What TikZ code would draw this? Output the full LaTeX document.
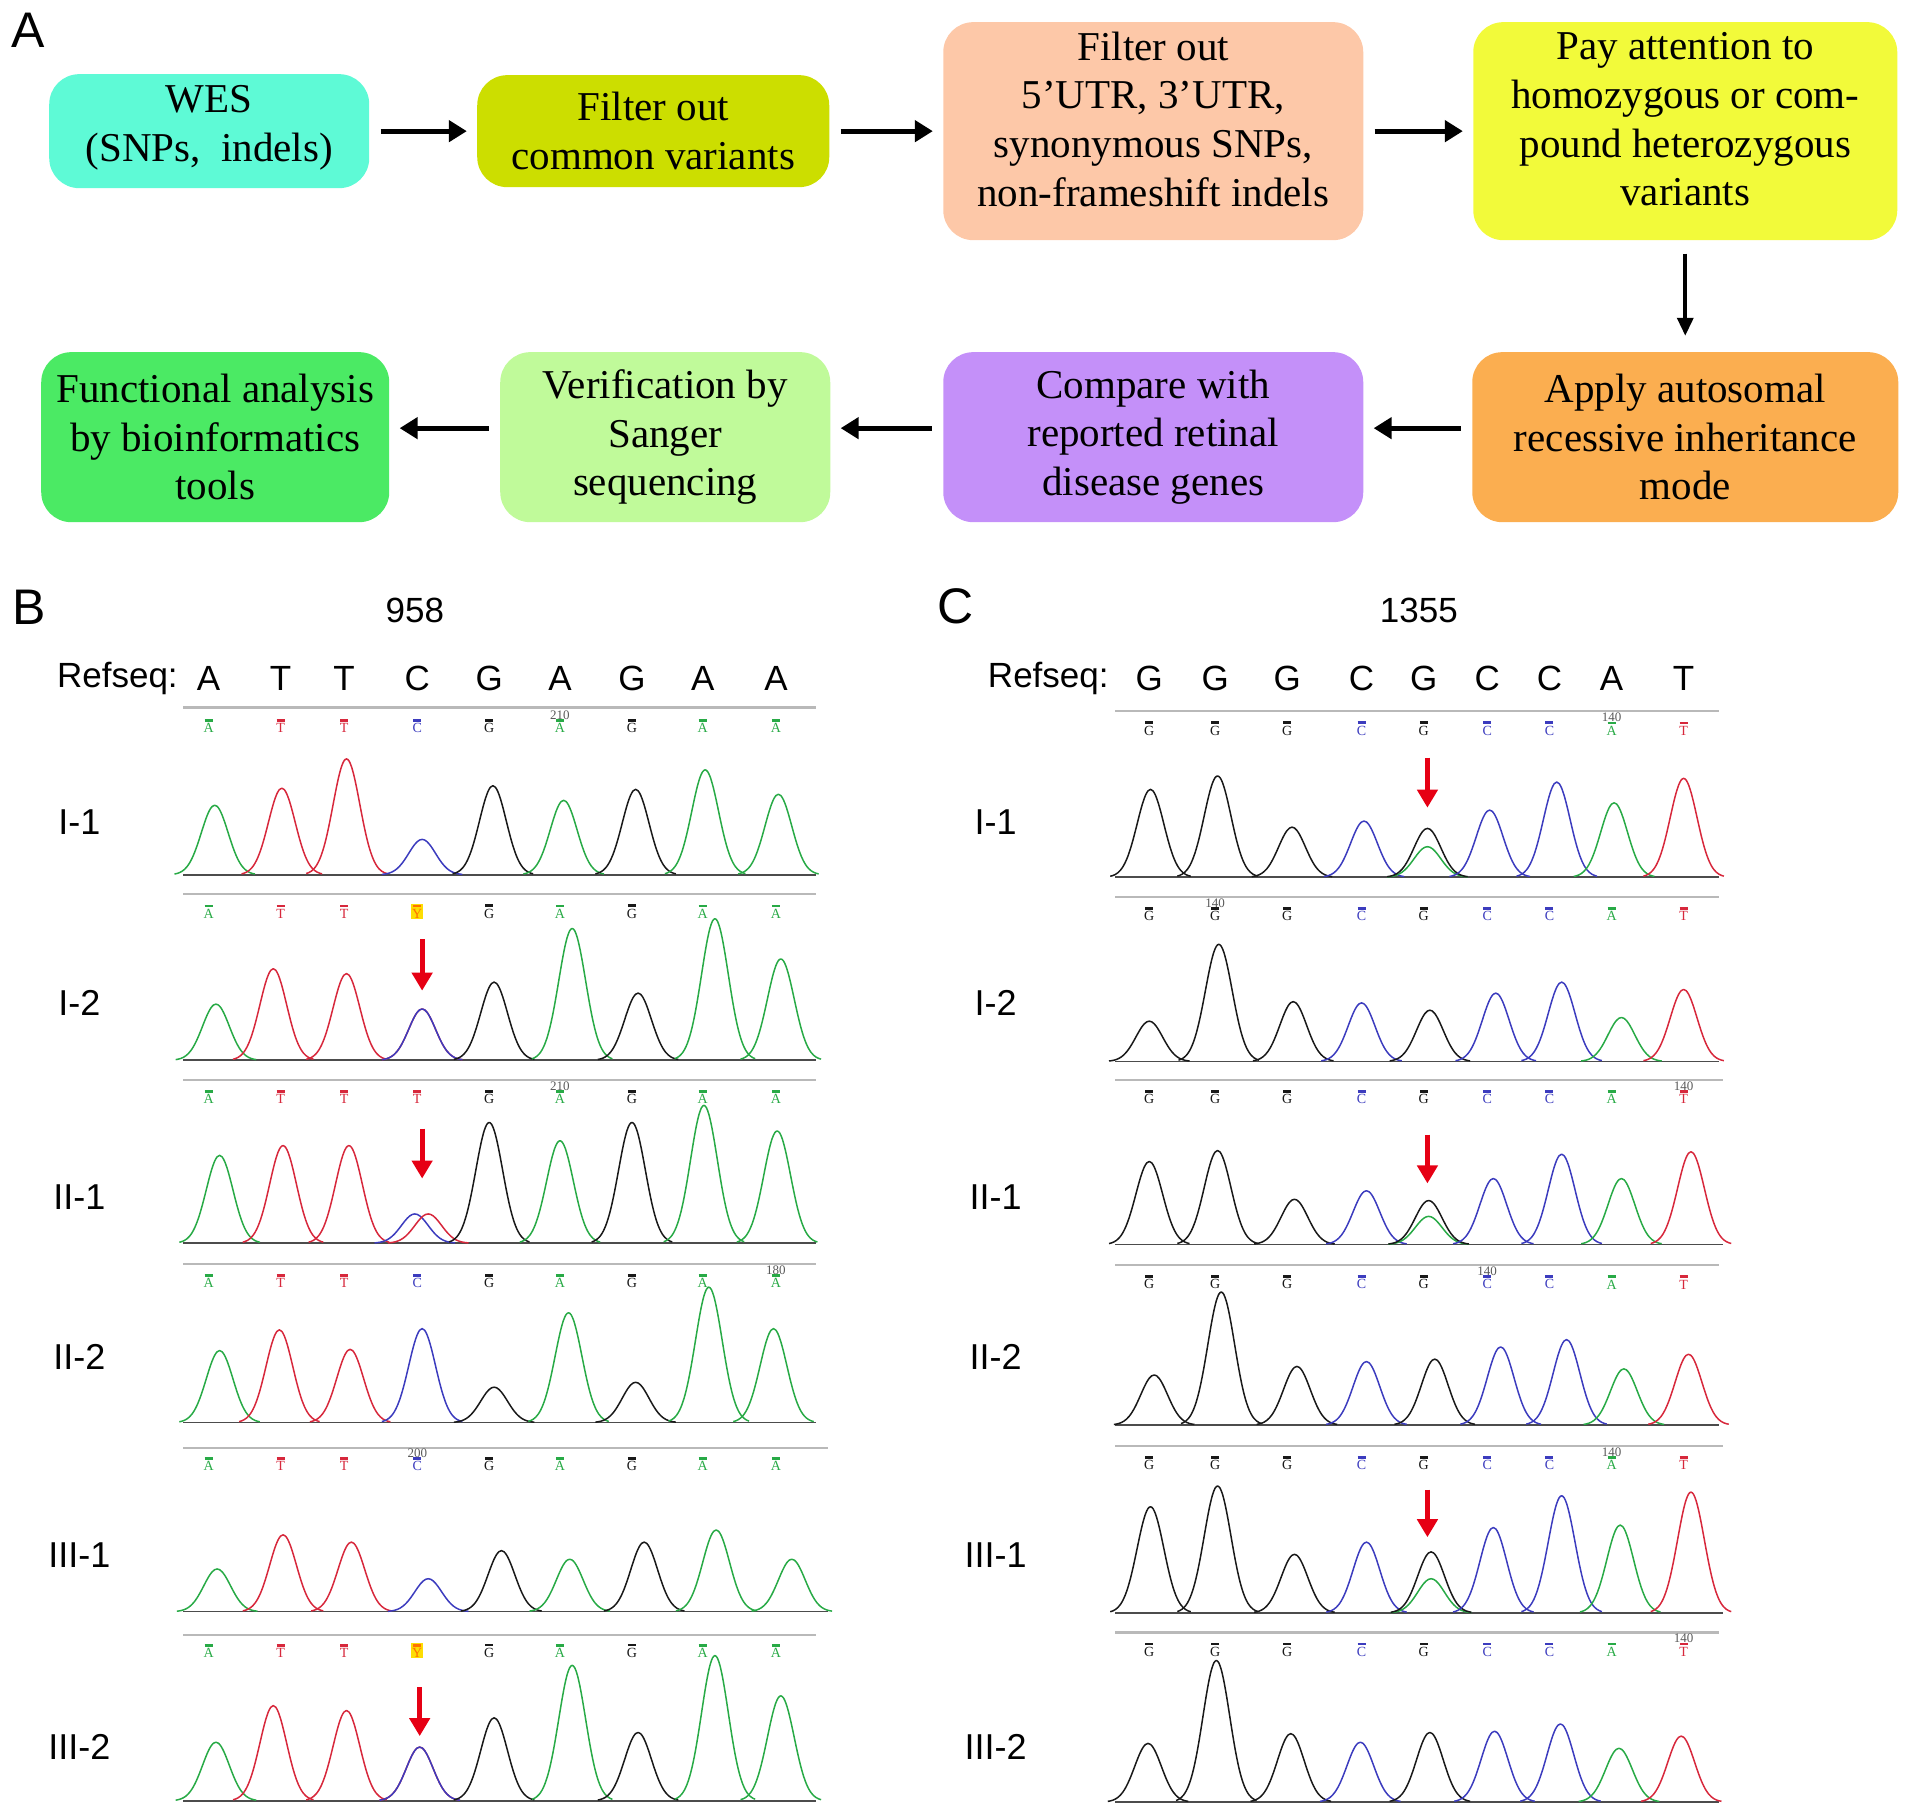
\documentclass[tikz,border=0pt]{standalone}
\usepackage{fontspec}
\setmainfont{Liberation Serif}
\setsansfont{Liberation Sans}
\usepackage{xcolor}
\usetikzlibrary{arrows.meta,positioning}
\definecolor{wescol}{RGB}{94,250,214}
\definecolor{commoncol}{RGB}{204,222,0}
\definecolor{utrcol}{RGB}{253,200,168}
\definecolor{paycol}{RGB}{242,250,58}
\definecolor{applycol}{RGB}{251,174,80}
\definecolor{comparecol}{RGB}{196,144,249}
\definecolor{verifcol}{RGB}{192,250,154}
\definecolor{funccol}{RGB}{75,234,100}
\definecolor{tgreen}{RGB}{40,170,70}
\definecolor{tred}{RGB}{215,40,60}
\definecolor{tblue}{RGB}{60,60,190}
\definecolor{tblack}{RGB}{25,25,25}
\definecolor{mutred}{RGB}{230,0,20}
\tikzstyle{flowbox} = [rectangle, rounded corners=15pt, align=center, inner sep=0pt,
    font=\fontsize{20.5}{24.4}\selectfont]
\tikzstyle{arrow} = [draw, -{Triangle[length=9pt,width=10.5pt]}, line width=2.6pt,
    shorten <=5.5pt, shorten >=5pt]
\tikzstyle{downarrow} = [draw, -{Triangle[length=9pt,width=8pt]}, line width=1.8pt,
    shorten <=6.5pt, shorten >=8pt]
\tikzstyle{panellabel} = [font=\sffamily\fontsize{25}{25}\selectfont, inner sep=0pt]
\tikzstyle{seqlabel} = [font=\sffamily\fontsize{17.5}{17.5}\selectfont, inner sep=0pt]
\tikzstyle{tracklabel} = [font=\sffamily\fontsize{18}{18}\selectfont, inner sep=0pt]
\tikzstyle{basecall} = [font=\fontsize{7}{5.5}\selectfont, align=center, inner sep=0.4pt]
\tikzstyle{posnum} = [font=\fontsize{6.5}{6.5}\selectfont, text=gray!70!black, inner sep=0pt]
\tikzstyle{gridtop} = [draw=gray!55, line width=1.2pt]
\tikzstyle{axisline} = [draw=gray!60!black, line width=0.8pt]
\tikzstyle{trace} = [line width=0.75pt, line join=round]
\tikzstyle{mutarrow} = [draw=mutred, -{Triangle[length=9pt,width=10pt]}, line width=2.6pt]
\tikzstyle{callA} = [text=tgreen]
\tikzstyle{callT} = [text=tred]
\tikzstyle{callC} = [text=tblue]
\tikzstyle{callG} = [text=tblack]
\tikzstyle{callY} = [text=orange!90!red, fill=yellow!80!orange]
\newcommand{\posB}{{171,230,282,342,401,459,518,576,636}}
\newcommand{\posC}{{942,996,1055,1116,1167,1219,1270,1321,1380}}
% grey top rule and dark axis of one trace
\newcommand{\chromtrack}[4]{%
  \draw[gridtop] (#1,#3) -- (#2,#3);
  \draw[axisline] (#1,#4) -- (#2,#4);}
% row of called bases
\newcommand{\calls}[4]{%
  \foreach \bl [count=\k] in {#4} {
    \pgfmathsetmacro{\bx}{#1[\k-1]}
    \node[basecall, call\bl] (#3\k) at (\bx,#2) {\rule{4pt}{1.3pt}\\\bl};
  }}
% peaks: x/height/colour
\newcommand{\peaks}[2]{%
  \foreach \px/\ph/\pc in {#2} {
    \draw[trace, \pc] plot[domain=-33:33, samples=33, smooth] ({\px+\x},{#1-\ph*exp(-(\x*\x)/240)});
  }}

\begin{document}
\begin{tikzpicture}[x=0.61pt, y=-0.61pt, node distance=2cm]
\useasboundingbox (0,0) rectangle (1568,1488);

% Panel A: workflow
\node [panellabel] (labA) at (23,25) {A};
\node [flowbox, fill=wescol, minimum width=160pt, minimum height=57pt, text depth=8pt] (wes) at (171.5,107.5) {WES\\(SNPs,\ \ indels)};
\node [flowbox, fill=commoncol, minimum width=176pt, minimum height=56pt, right of=wes, node distance=222pt] (common) {Filter out\\common variants};
\node [flowbox, fill=utrcol, minimum width=210pt, minimum height=109pt, text depth=12pt, right of=common, node distance=250pt] (utr) {Filter out\\5’UTR, 3’UTR,\\synonymous SNPs,\\non-frameshift indels};
\node [flowbox, fill=paycol, minimum width=212pt, minimum height=109pt, text depth=12pt, right of=utr, node distance=266pt] (pay) {Pay attention to\\homozygous or com-\\pound heterozygous\\variants};
\node [flowbox, fill=applycol, minimum width=213pt, minimum height=85pt, below of=pay, node distance=153pt] (apply) {Apply autosomal\\recessive inheritance\\mode};
\node [flowbox, fill=comparecol, minimum width=210pt, minimum height=85pt, left of=apply, node distance=266pt] (compare) {Compare with\\reported retinal\\disease genes};
\node [flowbox, fill=verifcol, minimum width=165pt, minimum height=85pt, left of=compare, node distance=244pt] (verif) {Verification by\\Sanger\\sequencing};
\node [flowbox, fill=funccol, minimum width=174pt, minimum height=85pt, left of=verif, node distance=225pt] (func) {Functional analysis\\by bioinformatics\\tools};

\path [arrow] (wes) -- (common);
\path [arrow] (common) -- (utr);
\path [arrow] (utr) -- (pay);
\path [downarrow] (pay) -- (apply);
\path [arrow] ([yshift=4.5pt]apply.west) -- ([yshift=4.5pt]compare.east);
\path [arrow] ([yshift=4.5pt]compare.west) -- ([yshift=4.5pt]verif.east);
\path [arrow] ([yshift=4.5pt]verif.west) -- ([yshift=4.5pt]func.east);

% Panel B: c.958
\node [panellabel] (labB) at (24,498) {B};
\node [seqlabel] (posB) at (340,500) {958};
\node [seqlabel, anchor=east] (refB) at (146,556) {Refseq:};
\foreach \rl [count=\k] in {A,T,T,C,G,A,G,A,A} {
  \pgfmathsetmacro{\rx}{\posB[\k-1]}
  \node [seqlabel] (rB\k) at (\rx,556) {\rl};
}
\node [tracklabel] (tBa) at (65,674) {I-1};
\node [tracklabel] (tBb) at (65,822) {I-2};
\node [tracklabel] (tBc) at (65,981) {II-1};
\node [tracklabel] (tBd) at (65,1112) {II-2};
\node [tracklabel] (tBe) at (65,1275) {III-1};
\node [tracklabel] (tBf) at (65,1432) {III-2};

\chromtrack{150}{669}{580}{717}
\calls{\posB}{595}{cBa}{A,T,T,C,G,A,G,A,A}
\node [posnum, above=-1pt of cBa6] (nBa) {210};
\peaks{717}{176/57/tgreen,231/71/tred,284/95/tred,346/29/tblue,404/73/tblack,462/61/tgreen,521/70/tblack,578/86/tgreen,638/66/tgreen}

\chromtrack{150}{669}{733}{869}
\calls{\posB}{747}{cBb}{A,T,T,Y,G,A,G,A,A}
\peaks{869}{177/46/tgreen,224/75/tred,284/71/tred,346/42/tred,346/42/tblue,405/64/tblack,469/108/tgreen,523/55/tblack,586/116/tgreen,640/83/tgreen}

\chromtrack{150}{669}{885}{1019}
\calls{\posB}{899}{cBc}{A,T,T,T,G,A,G,A,A}
\node [posnum, above=-1pt of cBc6] (nBc) {210};
\peaks{1019}{180/72/tgreen,232/80/tred,286/80/tred,340/24/tblue,351/24/tred,401/99/tblack,459/84/tgreen,518/99/tblack,577/113/tgreen,637/92/tgreen}

\chromtrack{150}{669}{1036}{1166}
\calls{\posB}{1050}{cBd}{A,T,T,C,G,A,G,A,A}
\node [posnum, above=-1pt of cBd9] (nBd) {180};
\peaks{1166}{180/59/tgreen,229/76/tred,287/60/tred,346/77/tblue,405/29/tblack,466/90/tgreen,521/33/tblack,581/111/tgreen,634/77/tgreen}

\chromtrack{150}{679}{1187}{1321}
\calls{\posB}{1200}{cBe}{A,T,T,C,G,A,G,A,A}
\node [posnum, above=-1pt of cBe4] (nBe) {200};
\peaks{1321}{178/35/tgreen,232/63/tred,288/57/tred,351/27/tblue,411/50/tblack,467/43/tgreen,528/57/tblack,587/67/tgreen,649/43/tgreen}

\chromtrack{150}{669}{1340}{1476}
\calls{\posB}{1353}{cBf}{A,T,T,Y,G,A,G,A,A}
\peaks{1476}{177/48/tgreen,224/78/tred,284/74/tred,344/44/tred,344/44/tblue,405/68/tblack,469/111/tgreen,523/56/tblack,586/119/tgreen,640/86/tgreen}

\coordinate (mBb1) at (346,770);  \coordinate (mBb2) at (346,812);
\coordinate (mBc1) at (346,925);  \coordinate (mBc2) at (346,966);
\coordinate (mBf1) at (344,1383); \coordinate (mBf2) at (344,1423);
\path [mutarrow] (mBb1) -- (mBb2);
\path [mutarrow] (mBc1) -- (mBc2);
\path [mutarrow] (mBf1) -- (mBf2);

% Panel C: c.1355
\node [panellabel] (labC) at (783,497) {C};
\node [seqlabel] (posC) at (1163,500) {1355};
\node [seqlabel, anchor=east] (refC) at (909,556) {Refseq:};
\foreach \rl [count=\k] in {G,G,G,C,G,C,C,A,T} {
  \pgfmathsetmacro{\rx}{\posC[\k-1]}
  \node [seqlabel] (rC\k) at (\rx,556) {\rl};
}
\node [tracklabel] (tCa) at (816,674) {I-1};
\node [tracklabel] (tCb) at (816,822) {I-2};
\node [tracklabel] (tCc) at (816,981) {II-1};
\node [tracklabel] (tCd) at (816,1112) {II-2};
\node [tracklabel] (tCe) at (816,1275) {III-1};
\node [tracklabel] (tCf) at (816,1432) {III-2};

\chromtrack{914}{1409}{583}{719}
\calls{\posC}{597}{cCa}{G,G,G,C,G,C,C,A,T}
\node [posnum, above=-1pt of cCa8] (nCa) {140};
\peaks{719}{943/72/tblack,998/83/tblack,1059/41/tblack,1118/46/tblue,1170/25/tgreen,1170/40/tblack,1221/55/tblue,1276/78/tblue,1323/61/tgreen,1380/81/tred}

\chromtrack{914}{1409}{735}{870}
\calls{\posC}{749}{cCb}{G,G,G,C,G,C,C,A,T}
\node [posnum, above=-1pt of cCb2] (nCb) {140};
\peaks{870}{942/33/tblack,999/96/tblack,1060/49/tblack,1116/48/tblue,1172/42/tblack,1226/56/tblue,1280/65/tblue,1329/36/tgreen,1380/59/tred}

\chromtrack{914}{1412}{885}{1020}
\calls{\posC}{899}{cCc}{G,G,G,C,G,C,C,A,T}
\node [posnum, above=-1pt of cCc9] (nCc) {140};
\peaks{1020}{942/68/tblack,998/77/tblack,1061/37/tblack,1120/44/tblue,1171/23/tgreen,1171/36/tblack,1224/54/tblue,1280/74/tblue,1329/54/tgreen,1386/76/tred}

\chromtrack{914}{1409}{1037}{1168}
\calls{\posC}{1051}{cCd}{G,G,G,C,G,C,C,A,T}
\node [posnum, above=-1pt of cCd6] (nCd) {140};
\peaks{1168}{946/41/tblack,1001/109/tblack,1063/48/tblack,1120/52/tblue,1176/54/tblack,1230/64/tblue,1284/70/tblue,1331/46/tgreen,1384/58/tred}

\chromtrack{914}{1412}{1185}{1322}
\calls{\posC}{1199}{cCe}{G,G,G,C,G,C,C,A,T}
\node [posnum, above=-1pt of cCe8] (nCe) {140};
\peaks{1322}{943/87/tblack,998/104/tblack,1061/48/tblack,1120/58/tblue,1173/28/tgreen,1173/50/tblack,1224/70/tblue,1280/96/tblue,1328/72/tgreen,1386/99/tred}

\chromtrack{914}{1409}{1338}{1477}
\calls{\posC}{1352}{cCf}{G,G,G,C,G,C,C,A,T}
\node [posnum, above=-1pt of cCf9] (nCf) {140};
\peaks{1477}{941/48/tblack,997/116/tblack,1058/56/tblack,1115/49/tblue,1172/57/tblack,1225/58/tblue,1279/64/tblue,1327/44/tgreen,1378/54/tred}

\coordinate (mCa1) at (1170,621);  \coordinate (mCa2) at (1170,662);
\coordinate (mCc1) at (1170,930);  \coordinate (mCc2) at (1170,970);
\coordinate (mCe1) at (1170,1221); \coordinate (mCe2) at (1170,1260);
\path [mutarrow] (mCa1) -- (mCa2);
\path [mutarrow] (mCc1) -- (mCc2);
\path [mutarrow] (mCe1) -- (mCe2);
\end{tikzpicture}
\end{document}
